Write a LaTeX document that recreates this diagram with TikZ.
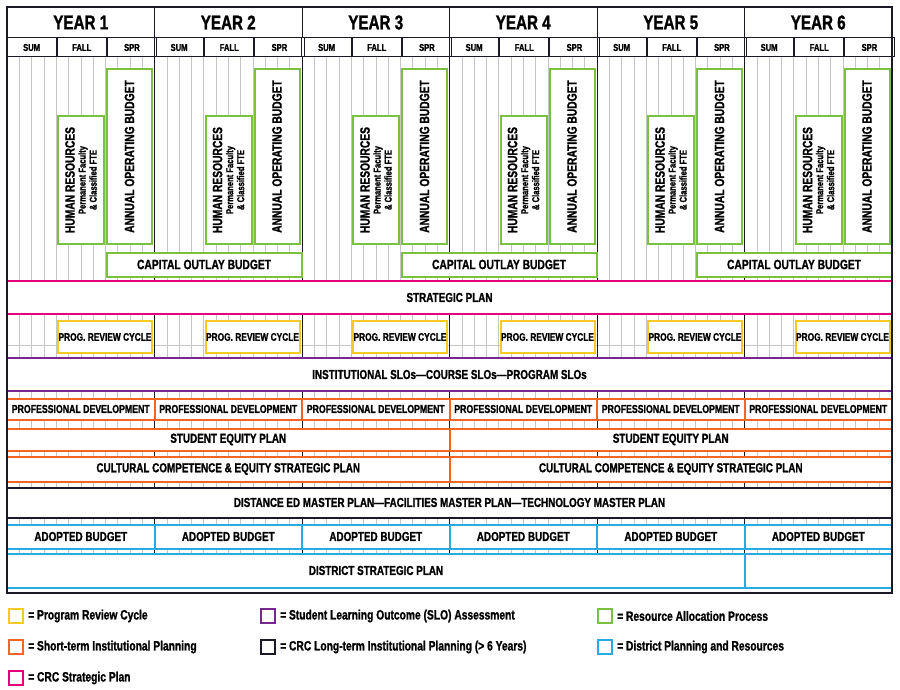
\documentclass[tikz,border=0pt]{standalone}
\usepackage{fontspec}
\setmainfont{Liberation Sans}[FakeStretch=0.76, BoldFont=Liberation Sans Bold, BoldFeatures={FakeBold=1.2}]
\usetikzlibrary{positioning}
\definecolor{resgreen}{RGB}{122,193,66}
\definecolor{stratpink}{RGB}{228,0,124}
\definecolor{slopurple}{RGB}{120,40,140}
\definecolor{shortorange}{RGB}{242,101,34}
\definecolor{distblue}{RGB}{41,171,226}
\definecolor{revyellow}{RGB}{247,201,37}
\definecolor{longblack}{RGB}{25,25,40}

\begin{document}
\begin{tikzpicture}[x=1pt, y=-1pt, font=\bfseries,
    box/.style = {draw, line width=2pt, fill=white, inner sep=0pt, align=center},
    greenbox/.style = {box, draw=resgreen, font=\bfseries\fontsize{13.5}{13}\selectfont},
    bandbox/.style = {box, font=\bfseries\fontsize{13}{13}\selectfont},
    legbox/.style = {draw, line width=2pt, minimum size=14pt, inner sep=0pt}]
    \useasboundingbox (0,0) rectangle (900,690);

    % grid behind everything
    \foreach \j in {0,...,72}
        \draw[gray!45, line width=0.5pt] ({7+\j*147.5/12},57) -- ({7+\j*147.5/12},588);
    \draw[gray!45, line width=0.5pt] (7,345) -- (892,345);
    \foreach \k in {1,...,5}
        \draw[longblack, line width=1pt] ({7+147.5*\k},57) -- ({7+147.5*\k},588);

    % header and green boxes, one year at a time
    \foreach \k [evaluate=\k as \X using 7+147.5*\k, evaluate=\k as \n using int(\k+1)] in {0,...,5} {
        \node[draw=longblack, line width=1pt, minimum width=147.5, minimum height=31, inner sep=0pt,
              font=\bfseries\fontsize{20}{20}\selectfont] (year\n) at (\X+73.75,22.5) {YEAR \n};
        \node[draw=longblack, line width=1pt, minimum width=49.17, minimum height=19, inner sep=0pt,
              font=\bfseries\fontsize{10}{10}\selectfont] (sum\n) at (\X+24.58,47.5) {SUM};
        \node[draw=longblack, line width=1pt, minimum width=49.17, minimum height=19, inner sep=0pt,
              font=\bfseries\fontsize{10}{10}\selectfont, right=0pt of sum\n] (fall\n) {FALL};
        \node[draw=longblack, line width=1pt, minimum width=49.17, minimum height=19, inner sep=0pt,
              font=\bfseries\fontsize{10}{10}\selectfont, right=0pt of fall\n] (spr\n) {SPR};

        \node[greenbox, rotate=90, minimum width=128, minimum height=46] (hr\n) at (\X+74,180)
            {HUMAN RESOURCES\\[-2pt]{\fontsize{10}{10}\selectfont Permanent Faculty}\\[-2pt]{\fontsize{10}{10}\selectfont\& Classified FTE}};
        \node[greenbox, rotate=90, minimum width=175, minimum height=45] (aob\n) at (\X+122.5,156.5)
            {ANNUAL OPERATING BUDGET};

        \node[box, draw=revyellow, minimum width=94, minimum height=32,
              font=\bfseries\fontsize{11}{11}\selectfont] (prc\n) at (\X+98,337) {PROG. REVIEW CYCLE};
        \node[bandbox, draw=shortorange, minimum width=147.5, minimum height=21,
              font=\bfseries\fontsize{11.5}{11.5}\selectfont] (pd\n) at (\X+73.75,409) {PROFESSIONAL DEVELOPMENT};
        \node[bandbox, draw=distblue, minimum width=147.5, minimum height=24] (ab\n) at (\X+73.75,536.5) {ADOPTED BUDGET};
    }
    \foreach \k [evaluate=\k as \X using 7+147.5*\k, evaluate=\k as \n using int(\k+1)] in {0,2,4}
        \node[greenbox, minimum width=195, minimum height=24] (cob\n) at (\X+197,264.5) {CAPITAL OUTLAY BUDGET};

    % long bands
    \node[fill=white, minimum width=885, minimum height=33, inner sep=0pt,
          font=\bfseries\fontsize{13}{13}\selectfont] (strat) at (449.5,297.5) {STRATEGIC PLAN};
    \draw[stratpink, line width=2pt] (strat.north west) -- (strat.north east);
    \draw[stratpink, line width=2pt] (strat.south west) -- (strat.south east);
    \node[fill=white, minimum width=885, minimum height=33, inner sep=0pt,
          font=\bfseries\fontsize{13}{13}\selectfont] (slo) at (449.5,374.5) {INSTITUTIONAL SLOs---COURSE SLOs---PROGRAM SLOs};
    \draw[slopurple, line width=2pt] (slo.north west) -- (slo.north east);
    \draw[slopurple, line width=2pt] (slo.south west) -- (slo.south east);

    \node[bandbox, draw=shortorange, minimum width=442.5, minimum height=22] (sep1) at (228.25,439.5) {STUDENT EQUITY PLAN};
    \node[bandbox, draw=shortorange, minimum width=442.5, minimum height=22] (sep2) at (670.75,439.5) {STUDENT EQUITY PLAN};
    \node[bandbox, draw=shortorange, minimum width=442.5, minimum height=25] (ccp1) at (228.25,469) {CULTURAL COMPETENCE \& EQUITY STRATEGIC PLAN};
    \node[bandbox, draw=shortorange, minimum width=442.5, minimum height=25] (ccp2) at (670.75,469) {CULTURAL COMPETENCE \& EQUITY STRATEGIC PLAN};
    \node[bandbox, draw=longblack, minimum width=885, minimum height=30] (dist) at (449.5,502.5)
        {DISTANCE ED MASTER PLAN---FACILITIES MASTER PLAN---TECHNOLOGY MASTER PLAN};
    \node[bandbox, draw=distblue, minimum width=738, minimum height=34] (dsp) at (376,570.5) {DISTRICT STRATEGIC PLAN};
    \node[bandbox, draw=distblue, minimum width=147, minimum height=34] (dspend) at (818.5,570.5) {};

    % frame
    \draw[longblack, line width=1.8pt] (7,7) rectangle (892,593);

    % legend
    \foreach \x/\y/\c/\t [count=\i] in {16/616/revyellow/Program Review Cycle,
                                        16/647/shortorange/Short-term Institutional Planning,
                                        16/678/stratpink/CRC Strategic Plan,
                                        268/616/slopurple/Student Learning Outcome (SLO) Assessment,
                                        268/647/longblack/CRC Long-term Institutional Planning (> 6 Years),
                                        605/616/resgreen/Resource Allocation Process,
                                        605/647/distblue/District Planning and Resources} {
        \node[legbox, draw=\c] (key\i) at (\x,\y) {};
        \node[right=4pt of key\i, inner sep=0pt, font=\bfseries\fontsize{13.5}{13.5}\selectfont] (lab\i) {= \t};
    }
\end{tikzpicture}
\end{document}
